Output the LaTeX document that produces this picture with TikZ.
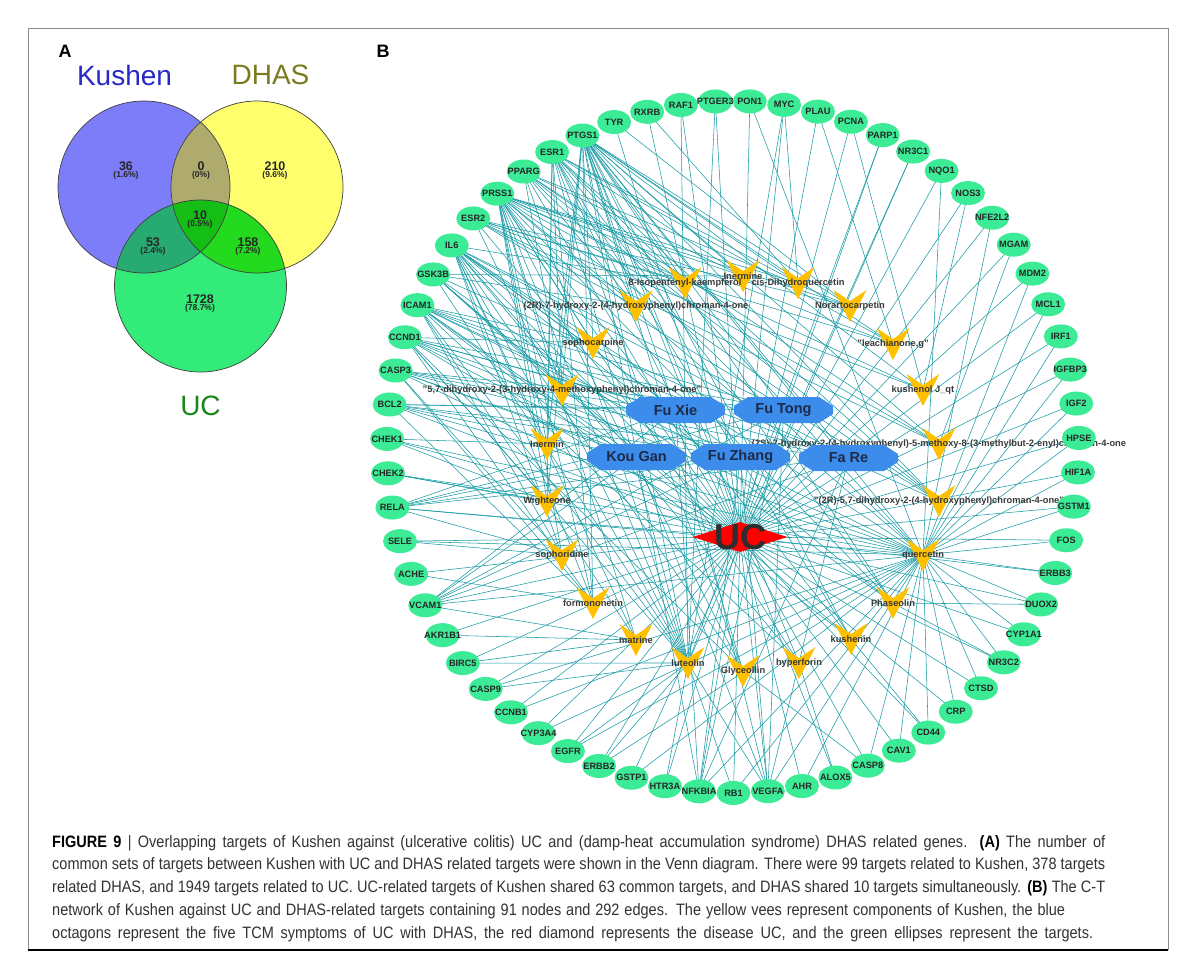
\documentclass[tikz,border=0pt]{standalone}
\usepackage{fontspec}
\setmainfont{Liberation Sans}
\newfontfamily\capfont[FakeStretch=0.88]{Liberation Sans}
\usepackage{xcolor}
\usepackage{tikz}
\usetikzlibrary{shapes.geometric}
\definecolor{kushenfill}{RGB}{125,125,250}
\definecolor{dhasfill}{RGB}{255,255,110}
\definecolor{ucfill}{RGB}{50,235,120}
\definecolor{kdfill}{RGB}{175,170,110}
\definecolor{kufill}{RGB}{40,170,115}
\definecolor{dufill}{RGB}{35,218,30}
\definecolor{kdufill}{RGB}{20,190,20}
\definecolor{targetgreen}{RGB}{60,235,150}
\definecolor{veeyellow}{RGB}{255,192,0}
\definecolor{octblue}{RGB}{60,140,235}
\definecolor{octtext}{RGB}{30,42,70}
\definecolor{edgeteal}{RGB}{25,155,165}
\definecolor{captext}{RGB}{50,50,50}
\newcommand{\targetlist}{PTGER3,PON1,MYC,PLAU,PCNA,PARP1,NR3C1,NQO1,NOS3,NFE2L2,MGAM,MDM2,MCL1,IRF1,IGFBP3,IGF2,HPSE,HIF1A,GSTM1,FOS,ERBB3,DUOX2,CYP1A1,NR3C2,CTSD,CRP,CD44,CAV1,CASP8,ALOX5,AHR,VEGFA,RB1,NFKBIA,HTR3A,GSTP1,ERBB2,EGFR,CYP3A4,CCNB1,CASP9,BIRC5,AKR1B1,VCAM1,ACHE,SELE,RELA,CHEK2,CHEK1,BCL2,CASP3,CCND1,ICAM1,GSK3B,IL6,ESR2,PRSS1,PPARG,ESR1,PTGS1,TYR,RXRB,RAF1}
\newcommand{\capline}[2]{\makebox[#1][s]{#2}}
\pgfdeclarelayer{edgelayer}
\pgfsetlayers{edgelayer,main}
\tikzset{
  target/.style={ellipse, fill=targetgreen, minimum width=34pt, minimum height=24pt, inner sep=0pt,
    font=\fontsize{9.2}{10}\selectfont\bfseries, text=black!85},
  vee/.style={minimum width=34pt, minimum height=33pt, inner sep=0pt,
    font=\fontsize{9.3}{10}\selectfont\bfseries, text=black!78,
    path picture={\fill[veeyellow] ([shift={(-16.5pt,16pt)}]path picture bounding box.center)
      -- ([shift={(0pt,5pt)}]path picture bounding box.center)
      -- ([shift={(16.5pt,16pt)}]path picture bounding box.center)
      -- ([shift={(0pt,-16pt)}]path picture bounding box.center) -- cycle;}},
  symptom/.style={minimum width=99pt, minimum height=26pt, inner sep=0pt,
    font=\fontsize{14.5}{16}\selectfont\bfseries, text=octtext,
    path picture={\fill[octblue] ([shift={(0pt,-4pt)}]path picture bounding box.west)
      -- ([shift={(14pt,-13pt)}]path picture bounding box.west)
      -- ([shift={(-14pt,-13pt)}]path picture bounding box.east)
      -- ([shift={(0pt,-4pt)}]path picture bounding box.east)
      -- ([shift={(0pt,4pt)}]path picture bounding box.east)
      -- ([shift={(-14pt,13pt)}]path picture bounding box.east)
      -- ([shift={(14pt,13pt)}]path picture bounding box.west)
      -- ([shift={(0pt,4pt)}]path picture bounding box.west) -- cycle;}},
  ucdiamond/.style={diamond, fill=red, minimum width=95pt, minimum height=30pt, inner sep=0pt},
  uclabel/.style={font=\fontsize{36}{38}\selectfont\bfseries, text=black!82, inner sep=0pt},
  edge/.style={draw=edgeteal, line width=0.55pt},
  vennline/.style={draw=black!75, line width=0.7pt},
  vnum/.style={font=\fontsize{12.5}{13}\selectfont\bfseries, text=black!85, inner sep=0pt},
  vpct/.style={font=\fontsize{8.5}{9}\selectfont\bfseries, text=black!85, inner sep=0pt},
  setname/.style={font=\fontsize{28}{30}\selectfont, inner sep=0pt},
  panellbl/.style={font=\fontsize{18}{20}\selectfont\bfseries, inner sep=0pt},
  caption/.style={font=\capfont\fontsize{16.5}{22.75}\selectfont, text=captext, align=left, inner sep=0pt}
}
\begin{document}
\begin{tikzpicture}[x=1pt, y=-1pt]
  \useasboundingbox (0,0) rectangle (1194,966);
  % frame of the figure
  \draw[black!45, line width=0.6pt] (28,950) -- (28,28) -- (1168,28) -- (1168,950);
  \draw[black, line width=1.6pt] (28,950) -- (1168,950);
  \node[panellbl] (lblA) at (65,51) {A};
  \node[panellbl] (lblB) at (383,51) {B};

  % Venn diagram
  \coordinate (kc) at (144,187);
  \coordinate (dc) at (257,187);
  \coordinate (ucc) at (200.5,286);
  \fill[kushenfill] (kc) circle[radius=86pt];
  \fill[dhasfill] (dc) circle[radius=86pt];
  \fill[ucfill] (ucc) circle[radius=86pt];
  \begin{scope}
    \clip (dc) circle[radius=86pt];
    \fill[dufill] (ucc) circle[radius=86pt];
  \end{scope}
  \begin{scope}
    \clip (kc) circle[radius=86pt];
    \fill[kdfill] (dc) circle[radius=86pt];
    \fill[kufill] (ucc) circle[radius=86pt];
    \clip (dc) circle[radius=86pt];
    \fill[kdufill] (ucc) circle[radius=86pt];
  \end{scope}
  \draw[vennline] (kc) circle[radius=86pt] (dc) circle[radius=86pt] (ucc) circle[radius=86pt];
  \node[setname, text={rgb,255:red,40;green,40;blue,200}] (kushenlbl) at (124.5,75) {Kushen};
  \node[setname, text={rgb,255:red,122;green,122;blue,30}] (dhaslbl) at (270.5,75) {DHAS};
  \node[setname, text={rgb,255:red,25;green,135;blue,25}] (uclbl) at (200.5,406) {UC};
  \foreach \nm/\x/\y/\num/\pct in {k/126/166/36/1.6, kd/201/166/0/0, d/275/166/210/9.6,
      kdu/200/215/10/0.5, ku/153/242/53/2.4, du/248/242/158/7.2, u/200/299/1728/78.7} {
    \node[vnum] (num\nm) at (\x,\y) {\num};
    \node[vpct] (pct\nm) at (\x,\y+9.5) {(\pct\%)};
  }

  % compounds (yellow vees)
  \node[vee] (inermine) at (743,276) {Inermine};
  \node[vee] (norart) at (850,306) {Norartocarpetin};
  \node[vee] (sophocarp) at (593,343) {sophocarpine};
  \node[vee] (leach) at (893,344) {"leachianone,g"};
  \node[vee] (kjqt) at (923,390) {kushenol J\_qt};
  \node[vee] (inermin) at (547,444) {Inermin};
  \node[vee] (wight) at (547,501) {Wighteone};
  \node[vee] (sophorid) at (562,555) {sophoridine};
  \node[vee] (querc) at (923,555) {quercetin};
  \node[vee] (formon) at (593,603) {formononetin};
  \node[vee] (phaseol) at (893,603) {Phaseolin};
  \node[vee] (matrine) at (636,640) {matrine};
  \node[vee] (kushenin) at (851,639) {kushenin};
  \node[vee] (luteol) at (688,663) {luteolin};
  \node[vee] (glyceol) at (743,671) {Glyceollin};
  \node[vee] (hyperf) at (799,663) {hyperforin};
  \node[vee] (kaempf) at (685,283) {8-Isopentenyl-kaempferol};
  \node[vee] (cisdhq) at (798,283) {cis-Dihydroquercetin};
  \node[vee] (hcm) at (636,306) {(2R)-7-hydroxy-2-(4-hydroxyphenyl)chroman-4-one};
  \node[vee] (dhmc) at (562,390) {"5,7-dihydroxy-2-(3-hydroxy-4-methoxyphenyl)chroman-4-one"};
  \node[vee] (r2dh) at (939,501) {"(2R)-5,7-dihydroxy-2-(4-hydroxyphenyl)chroman-4-one"};
  \node[vee] (s2hm) at (939,444) {(2S)-7-hydroxy-2-(4-hydroxyphenyl)-5-methoxy-8-(3-methylbut-2-enyl)chroman-4-one};

  % symptoms (blue octagons) and disease
  \node[symptom] (fuxie) at (675.5,410) {Fu Xie};
  \node[symptom] (futong) at (783.5,410) {Fu Tong};
  \node[symptom] (kougan) at (636.5,457) {Kou Gan};
  \node[symptom] (fuzhang) at (740.5,457) {Fu Zhang};
  \node[symptom] (fare) at (848.5,458) {Fa Re};
  \node[ucdiamond] (UCdis) at (740,537) {};
  \node[uclabel] (UClbl) at (UCdis) {UC};

  % targets on the outer ring
  \foreach \g [count=\i, evaluate=\i as \a using {98.64-5.714*\i}] in \targetlist
    \node[target] (\g) at ({733+346*cos(\a)},{447-346*sin(\a)}) {\makebox[0pt]{\g}};

  % edges
  \begin{pgfonlayer}{edgelayer}
    \foreach \g in \targetlist
      \draw[edge] (UCdis.center) -- (\g.center);
    \foreach \s in {fuxie,futong,kougan,fuzhang,fare}
      \foreach \t in {IL6,ICAM1,CCND1,CASP3,BCL2,PTGS1,RELA,VCAM1,NFKBIA,VEGFA}
        \draw[edge] (\s.center) -- (\t.center);
    \foreach \c/\ts in {
        querc/{PRSS1,PTGS1,ESR1,PPARG,IL6,ICAM1,CCND1,CASP3,BCL2,CHEK1,CHEK2,RELA,SELE,VCAM1,CASP9,CCNB1,CYP3A4,EGFR,ERBB2,GSTP1,NFKBIA,RB1,VEGFA,AHR,CASP8,CAV1,CD44,CRP,CTSD,NR3C2,CYP1A1,DUOX2,ERBB3,FOS,GSTM1,HIF1A,HPSE,IGF2,IGFBP3,IRF1,MCL1,MDM2,NFE2L2,NQO1,PON1},
        luteol/{PRSS1,PTGS1,ESR1,PPARG,ESR2,IL6,GSK3B,ICAM1,CCND1,BIRC5,CASP9,EGFR,ERBB2,HTR3A,RB1,VEGFA,PTGER3,RAF1,PARP1,NR3C1,MYC},
        inermine/{PRSS1,PTGS1,ESR1,PPARG,GSK3B},
        kaempf/{PRSS1,PTGS1,ESR1,ESR2,IL6,PPARG},
        cisdhq/{PRSS1,PTGS1,ESR1,RXRB,MYC},
        hcm/{PRSS1,PTGS1,ESR1,ESR2,GSK3B,PPARG},
        norart/{PRSS1,PTGS1,ESR2,TYR,PPARG},
        sophocarp/{PRSS1,PTGS1,IL6,ICAM1,CCND1},
        leach/{PRSS1,PTGS1,ESR1,ESR2,PLAU},
        dhmc/{PRSS1,PTGS1,ESR1,PPARG,GSK3B},
        kjqt/{PRSS1,PTGS1,ESR2,PCNA,NOS3},
        inermin/{PRSS1,PTGS1,ESR1,IL6,CHEK1},
        s2hm/{PRSS1,PTGS1,ESR2,PPARG,MGAM},
        wight/{PRSS1,PTGS1,ESR1,CHEK1,CHEK2,CCND1},
        r2dh/{PRSS1,PTGS1,ESR1,ESR2,PPARG,GSK3B},
        sophorid/{PRSS1,IL6,ICAM1,CASP3,SELE,RELA},
        formon/{PRSS1,PTGS1,ESR1,IL6,CASP3,BCL2,CCND1,ACHE},
        phaseol/{PRSS1,PTGS1,ESR1,GSK3B,IL6,NR3C2,DUOX2},
        matrine/{PRSS1,IL6,ICAM1,VCAM1,AKR1B1,BIRC5},
        kushenin/{PRSS1,PTGS1,ESR1,GSK3B,ICAM1,CD44},
        glyceol/{PRSS1,PTGS1,ESR1,IL6,CCND1,CASP8},
        hyperf/{PRSS1,PTGS1,ICAM1,IL6,ALOX5}}
      \foreach \t in \ts
        \draw[edge] (\c.center) -- (\t.center);
  \end{pgfonlayer}

  % caption
  \node[caption, anchor=north west] (cap) at (52,835) {%
    \capline{1053pt}{{\bfseries\color{black}FIGURE 9} | Overlapping targets of Kushen against (ulcerative colitis) UC and (damp-heat accumulation syndrome) DHAS related genes. {\bfseries\color{black}(A)} The number of}\\
    \capline{1053pt}{common sets of targets between Kushen with UC and DHAS related targets were shown in the Venn diagram. There were 99 targets related to Kushen, 378 targets}\\
    \capline{1053pt}{related DHAS, and 1949 targets related to UC. UC-related targets of Kushen shared 63 common targets, and DHAS shared 10 targets simultaneously. {\bfseries\color{black}(B)} The C-T}\\
    \capline{1013pt}{network of Kushen against UC and DHAS-related targets containing 91 nodes and 292 edges. The yellow vees represent components of Kushen, the blue}\\
    \capline{1041pt}{octagons represent the five TCM symptoms of UC with DHAS, the red diamond represents the disease UC, and the green ellipses represent the targets.}};
\end{tikzpicture}
\end{document}
